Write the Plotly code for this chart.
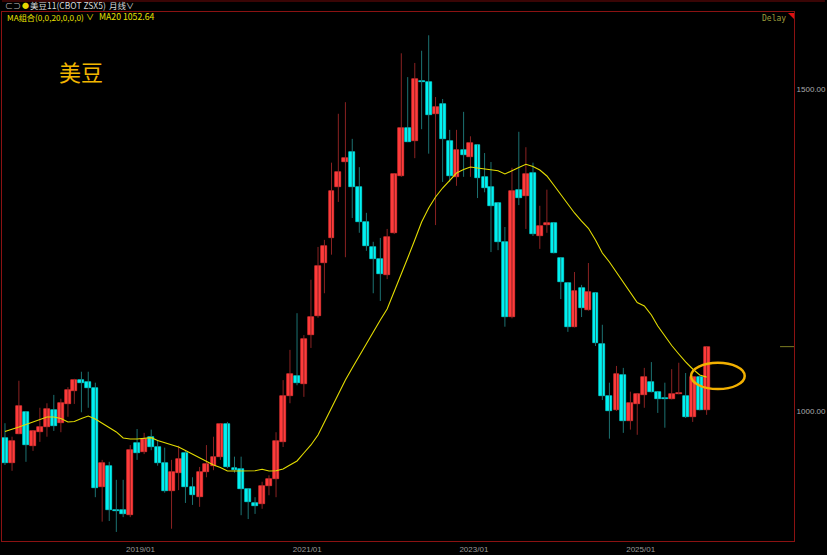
import pandas as pd
import plotly.graph_objects as go

# ---------------- data (monthly candles, 2017/05 .. 2025/10) ----------------
start_month = "2017-05-01"
opens = [958, 919, 964, 998, 946, 967, 975, 1002, 981, 1011,
         1031, 1048, 1045, 1036, 882, 915, 846, 846, 838, 950,
         936, 960, 944, 919, 876, 904, 935, 882, 866, 905,
         915, 929, 980, 911, 910, 879, 857, 855, 883, 894,
         952, 1023, 1054, 1042, 1118, 1148, 1230, 1269, 1348, 1387,
         1403, 1348, 1294, 1255, 1236, 1211, 1277, 1365, 1440, 1420,
         1513, 1511, 1462, 1477, 1420, 1364, 1406, 1395, 1413, 1364,
         1348, 1323, 1263, 1146, 1343, 1334, 1370, 1272, 1289, 1292,
         1238, 1199, 1131, 1191, 1157, 1183, 1104, 1023, 1002, 1056,
         985, 1011, 1025, 1045, 1030, 1020, 1019, 1026, 1023, 991,
         1053, 1002]
highs = [981, 960, 1047, 1000, 969, 1005, 1012, 1025, 1019, 1037,
         1050, 1061, 1061, 1044, 924, 921, 893, 893, 947, 972,
         966, 971, 955, 943, 924, 946, 938, 897, 913, 947,
         960, 981, 983, 929, 929, 880, 866, 890, 900, 967,
         1048, 1095, 1152, 1118, 1204, 1255, 1266, 1386, 1462, 1480,
         1423, 1379, 1308, 1263, 1269, 1283, 1368, 1556, 1519, 1541,
         1560, 1584, 1488, 1485, 1437, 1437, 1465, 1427, 1415, 1401,
         1387, 1324, 1286, 1378, 1434, 1410, 1386, 1319, 1344, 1293,
         1239, 1200, 1216, 1196, 1230, 1184, 1134, 1044, 1070, 1067,
         1030, 1027, 1067, 1076, 1030, 1044, 1065, 1075, 1059, 1054,
         1054, 1100]
lows = [916, 907, 964, 921, 938, 952, 960, 969, 967, 991,
        1011, 998, 1005, 866, 828, 829, 812, 835, 835, 924,
        933, 939, 915, 873, 817, 877, 857, 854, 851, 897,
        908, 924, 911, 904, 838, 832, 840, 848, 869, 866,
        944, 1012, 1040, 1022, 1098, 1145, 1183, 1243, 1325, 1239,
        1300, 1277, 1249, 1183, 1171, 1205, 1275, 1364, 1418, 1393,
        1438, 1400, 1289, 1356, 1356, 1350, 1364, 1364, 1331, 1340,
        1247, 1250, 1131, 1144, 1320, 1283, 1272, 1252, 1277, 1245,
        1174, 1123, 1130, 1146, 1156, 1101, 1017, 957, 1000, 966,
        971, 963, 1005, 1029, 997, 974, 1018, 1026, 989, 983,
        1001, 994]
closes = [919, 953, 1008, 947, 969, 975, 1003, 977, 1012, 1033,
          1048, 1044, 1036, 880, 919, 846, 845, 840, 939, 935,
          957, 944, 919, 876, 905, 925, 882, 869, 905, 918,
          929, 980, 913, 908, 879, 859, 852, 883, 894, 953,
          1023, 1058, 1044, 1112, 1146, 1225, 1257, 1342, 1372, 1393,
          1348, 1294, 1257, 1236, 1213, 1270, 1368, 1440, 1418, 1516,
          1511, 1460, 1473, 1423, 1365, 1406, 1398, 1417, 1362, 1347,
          1319, 1263, 1146, 1342, 1331, 1368, 1275, 1288, 1292, 1246,
          1201, 1131, 1187, 1160, 1185, 1106, 1023, 1000, 1058, 985,
          1012, 1026, 1053, 1030, 1019, 1019, 1026, 1028, 991, 1053,
          1002, 1100]
ma20 = [968.1, 971.2, 975.1, 979.0, 982.9, 986.8, 990.7, 990.7, 988.3, 982.9,
        983.7, 988.3, 992.2, 987.6, 981.3, 974.4, 967.4, 958.0, 956.5, 956.5,
        958.0, 958.5, 954.1, 950.3, 947.2, 944.0, 938.6, 933.2, 927.7, 921.5,
        916.1, 912.2, 906.7, 906.7, 906.7, 906.7, 907.2, 909.4, 906.7, 907.2,
        909.9, 916.1, 922.3, 934.7, 947.2, 962.7, 982.9, 1004.7, 1026.4, 1048.2,
        1066.8, 1085.5, 1104.1, 1124.3, 1141.4, 1158.5, 1185.0, 1211.4, 1237.8, 1265.8,
        1293.8, 1315.5, 1332.6, 1346.6, 1359.0, 1369.9, 1375.4, 1379.2, 1377.7, 1376.1,
        1374.6, 1373.5, 1368.4, 1373.0, 1378.5, 1383.4, 1380.0, 1374.6, 1365.3, 1351.3,
        1336.5, 1321.7, 1307.8, 1295.3, 1284.0, 1265.8, 1245.6, 1231.6, 1216.0, 1198.9,
        1183.4, 1168.6, 1163.2, 1149.2, 1132.1, 1115.8, 1101.8, 1088.6, 1076.2, 1065.3,
        1056.0, 1052.64]
tick_dates = ["2019-01-01", "2021-01-01", "2023-01-01", "2025-01-01"]
tick_labels = ["2019/01", "2021/01", "2023/01", "2025/01"]
price_ticks = [1000, 1500]

# ---------------- styling ----------------
UP, DOWN = "#FF3B3B", "#00F2F2"
UP_WICK, DOWN_WICK = "#8A2222", "#1C7272"
FRAME = "#8B1212"
W, H = 827, 555
PL, PR, PT, PB = 1, 796, 12, 541


def px(x):
    return (x - PL) / (PR - PL)


def py(y):
    return (PB - y) / (PB - PT)


dates = pd.date_range(start_month, periods=len(opens), freq="MS") + pd.Timedelta(days=16)
up = [c >= o for o, c in zip(opens, closes)]

fig = go.Figure()

# wicks
for flag, col in ((True, UP_WICK), (False, DOWN_WICK)):
    xs, ys = [], []
    for d, hi, lo, u in zip(dates, highs, lows, up):
        if u == flag:
            xs += [d, d, None]
            ys += [lo, hi, None]
    fig.add_trace(go.Scatter(x=xs, y=ys, mode="lines", line=dict(color=col, width=1),
                             hoverinfo="skip", showlegend=False))

# bodies
body_col = [UP if u else DOWN for u in up]
fig.add_trace(go.Bar(
    x=dates,
    y=[abs(c - o) for o, c in zip(opens, closes)],
    base=[min(o, c) for o, c in zip(opens, closes)],
    width=26 * 86400000,
    marker=dict(color=body_col, line=dict(color=body_col, width=0.6)),
    hoverinfo="skip", showlegend=False))

# MA20
fig.add_trace(go.Scatter(x=dates, y=ma20, mode="lines",
                         line=dict(color="#E3DC00", width=1.1),
                         hoverinfo="skip", showlegend=False))

fig.update_layout(
    width=W, height=H,
    margin=dict(l=PL, r=W - PR, t=PT, b=H - PB),
    paper_bgcolor="#000000", plot_bgcolor="#000000",
    bargap=0, showlegend=False,
    xaxis=dict(type="date", range=["2017-05-04", "2026-11-04"],
               tickvals=tick_dates, ticktext=tick_labels,
               tickfont=dict(family="Liberation Sans, Arial", size=8, color="#9a9a9a"),
               showgrid=False, zeroline=False, ticks="",
               showline=True, linecolor=FRAME, linewidth=1, mirror=True),
    yaxis=dict(range=[797.9, 1620.2], side="right",
               tickvals=price_ticks, ticktext=[f"{v:.2f}" for v in price_ticks],
               tickfont=dict(family="Liberation Sans, Arial", size=8, color="#ababab"),
               showgrid=False, zeroline=False, ticks="",
               showline=True, linecolor=FRAME, linewidth=1, mirror=True),
)

# header texts
hdr_font = "Noto Sans CJK SC"
anns = [
    dict(x=px(2), y=py(5.5), text="⊂⊃", color="#bdbdbd", size=8),
    dict(x=px(19), y=py(5.5), text="●", color="#E8D800", size=7),
    dict(x=px(27), y=py(5.5), text="美豆11(CBOT ZSX5)", color="#d8d8d8", size=8.5),
    dict(x=px(106), y=py(5.5), text="月线", color="#d8d8d8", size=8.5),
    dict(x=px(123), y=py(5.5), text="∨", color="#d8d8d8", size=8),
    dict(x=px(4), y=py(17), text="MA组合(0,0,20,0,0,0)", color="#E8E000", size=8.2),
    dict(x=px(83), y=py(17), text="∨", color="#E8E000", size=8),
    dict(x=px(96), y=py(17), text="MA20 1052.64", color="#E8E000", size=8.7),
]
for a in anns:
    fig.add_annotation(x=a["x"], y=a["y"], xref="paper", yref="paper", text=a["text"],
                       showarrow=False, xanchor="left", yanchor="middle",
                       font=dict(family=hdr_font, size=a["size"], color=a["color"]))

fig.add_annotation(x=px(790), y=py(18), xref="paper", yref="paper", text="Delay",
                   showarrow=False, xanchor="right", yanchor="middle",
                   font=dict(family="DejaVu Sans Mono", size=8, color="#9c9c3c"))
fig.add_annotation(x=px(80), y=py(71), xref="paper", yref="paper", text="美豆",
                   showarrow=False, xanchor="center", yanchor="middle",
                   font=dict(family=hdr_font, size=22, color="#F2B600"))

# red corner triangle
fig.add_shape(type="path", xref="paper", yref="paper",
              path=f"M {px(790)} {py(13)} L {px(796)} {py(13)} L {px(796)} {py(19)} Z",
              fillcolor="#E01010", line=dict(width=0))
# top dark line
fig.add_shape(type="line", xref="paper", yref="paper", x0=0, x1=px(827), y0=py(1), y1=py(1),
              line=dict(color="#3a0505", width=2))
# last price marker
fig.add_shape(type="line", xref="paper", yref="y", x0=px(782), x1=1,
              y0=closes[-1], y1=closes[-1], line=dict(color="#7d7d22", width=1))
# highlight ellipse around the latest candles
fig.add_shape(type="circle", xref="x", yref="y",
              x0="2025-08-10", x1="2026-04-02", y0=1034, y1=1075,
              line=dict(color="#F2B000", width=2.5))

fig.write_html("out.html", config={"displayModeBar": False},
               post_script="document.body.style.margin='0';document.body.style.overflow='hidden';")
